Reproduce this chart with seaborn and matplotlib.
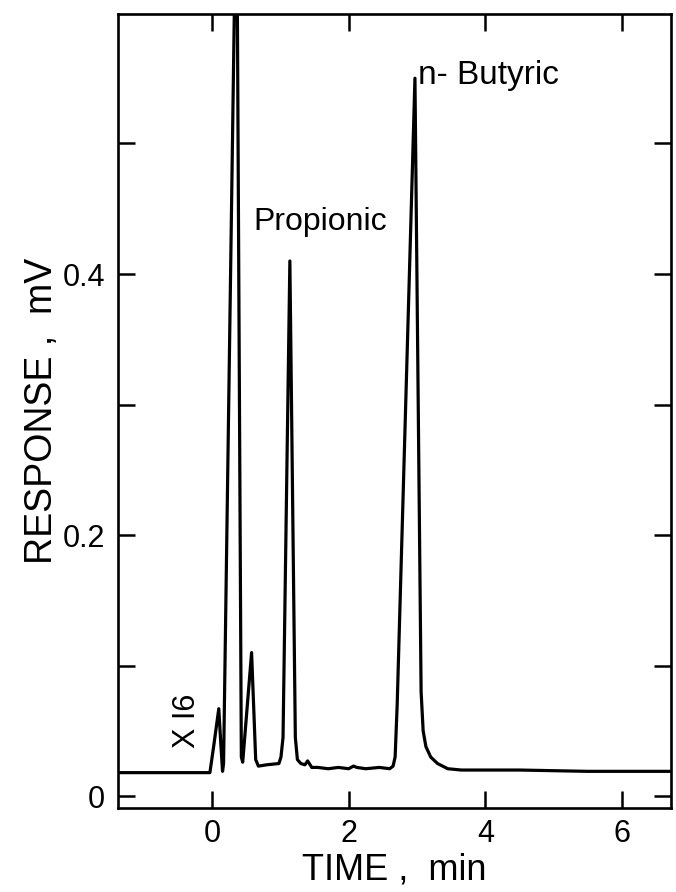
import matplotlib
matplotlib.use("Agg")
import matplotlib.pyplot as plt
import seaborn as sns
import pandas as pd
from matplotlib.ticker import FixedLocator

# Trace vertices (time in min, response in mV)
time_min = [-1.38, -0.03, 0.03, 0.10, 0.13, 0.155, 0.17, 0.36, 0.43, 0.45,
            0.58, 0.64, 0.68, 0.80, 0.98, 1.01, 1.04, 1.14, 1.22, 1.25,
            1.30, 1.36, 1.40, 1.46, 1.55, 1.70, 1.85, 2.00, 2.07, 2.12,
            2.25, 2.45, 2.60, 2.65, 2.68, 2.71, 2.97, 3.06, 3.09, 3.13,
            3.20, 3.30, 3.45, 3.65, 4.50, 5.50, 6.72]
response_mv = [0.018, 0.018, 0.040, 0.067, 0.040, 0.019, 0.025, 0.720, 0.030, 0.026,
               0.110, 0.028, 0.023, 0.024, 0.025, 0.030, 0.045, 0.410, 0.045, 0.028,
               0.025, 0.024, 0.027, 0.022, 0.022, 0.021, 0.022, 0.021, 0.023, 0.022,
               0.021, 0.022, 0.021, 0.023, 0.030, 0.070, 0.550, 0.080, 0.050, 0.038,
               0.030, 0.025, 0.021, 0.020, 0.020, 0.019, 0.019]

x_ticks = [0, 2, 4, 6]
x_ticklabels = ["0", "2", "4", "6"]
y_ticks = [0.0, 0.2, 0.4]
y_ticklabels = ["0", "0.2", "0.4"]
y_minor = [0.1, 0.3, 0.5]

peak_labels = ["Propionic", "n- Butyric"]
peak_label_pos = [(0.61, 0.44), (3.02, 0.552)]

df = pd.DataFrame({"time": time_min, "response": response_mv})

sns.set_style("ticks")
plt.rcParams["font.family"] = ["Liberation Sans", "DejaVu Sans"]
plt.rcParams["text.color"] = "black"
plt.rcParams["axes.labelcolor"] = "black"
plt.rcParams["xtick.color"] = "black"
plt.rcParams["ytick.color"] = "black"

fig = plt.figure(figsize=(6.76, 8.92), dpi=100)
ax = fig.add_axes([0.174, 0.094, 0.819, 0.890])

sns.lineplot(data=df, x="time", y="response", sort=False, estimator=None,
             color="black", linewidth=2.3, ax=ax)

ax.set_xlim(-1.38, 6.72)
ax.set_ylim(-0.0092, 0.599)

ax.xaxis.set_major_locator(FixedLocator(x_ticks))
ax.set_xticklabels(x_ticklabels)
ax.yaxis.set_major_locator(FixedLocator(y_ticks))
ax.set_yticklabels(y_ticklabels)
ax.yaxis.set_minor_locator(FixedLocator(y_minor))

ax.tick_params(axis="both", which="both", direction="in", top=True, right=True,
               width=1.8, color="black")
ax.tick_params(axis="both", which="major", length=12, labelsize=22)
ax.tick_params(axis="x", which="major", pad=8)
ax.tick_params(axis="y", which="major", pad=9)
ax.tick_params(axis="y", which="minor", length=12)

for s in ax.spines.values():
    s.set_linewidth(1.9)
    s.set_color("black")

ax.set_xlabel("TIME ,  min", fontsize=26, labelpad=2)
ax.set_ylabel("RESPONSE ,  mV", fontsize=27, labelpad=2)

label_sizes = [23, 24]
for lab, (px, py), fs in zip(peak_labels, peak_label_pos, label_sizes):
    ax.text(px, py, lab, fontsize=fs, ha="left", va="center")

ax.text(-0.36, 0.058, "X I6", fontsize=22, rotation=90, ha="center", va="center")

fig.savefig("out.png", dpi=100)
